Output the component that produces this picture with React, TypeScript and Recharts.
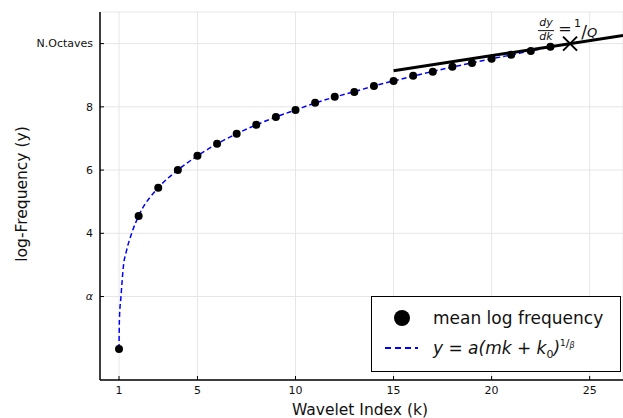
import {
  ComposedChart, Line, Scatter, XAxis, YAxis, CartesianGrid, ReferenceDot,
} from 'recharts'

// mean log frequency per wavelet index
const waveletIndex = [1, 2, 3, 4, 5, 6, 7, 8, 9, 10, 11, 12, 13, 14, 15, 16, 17, 18, 19, 20, 21, 22, 23]
const meanLogFreq = [
  0.34, 4.55, 5.44, 6.0, 6.45, 6.83, 7.15, 7.43, 7.68, 7.9, 8.13, 8.32,
  8.47, 8.66, 8.82, 8.98, 9.11, 9.27, 9.39, 9.52, 9.65, 9.77, 9.9,
]

// fitted curve y = a(mk + k0)^(1/β)
const fitK = [1, 1.02, 1.1, 1.22, 1.39, 1.65, 2, 3, 4, 5, 6, 7, 8, 9, 10, 11, 12, 13, 14, 15, 16, 17, 18, 19, 20, 21, 22, 23]
const fitY = [
  0.34, 1.3, 2.0, 2.94, 3.47, 4.01, 4.55, 5.44, 6.0, 6.45, 6.83, 7.15, 7.43, 7.68,
  7.9, 8.12, 8.31, 8.48, 8.66, 8.82, 8.97, 9.12, 9.26, 9.39, 9.52, 9.64, 9.77, 9.89,
]

// tangent dy/dk = 1/Q at the last octave
const tangentK = [15, 26.7]
const tangentY = [9.14, 10.26]
const markK = 24
const markY = 10

const xTicks = [1, 5, 10, 15, 20, 25]
const yTicks = [2, 4, 6, 8, 10]
const yTickLabels = ['α', '4', '6', '8', 'N.Octaves']

const FONT = '"DejaVu Sans", sans-serif'

const points = waveletIndex.map((k, i) => ({ k, y: meanLogFreq[i] }))
const fit = fitK.map((k, i) => ({ k, y: fitY[i] }))
const tangent = tangentK.map((k, i) => ({ k, y: tangentY[i] }))

type TickProps = { x?: number; y?: number; payload?: { value: number } }

function YTick({ x = 0, y = 0, payload }: TickProps) {
  const v = payload?.value ?? 0
  const label = yTickLabels[yTicks.indexOf(v)] ?? String(v)
  return (
    <g>
      <line x1={x + 7} x2={x + 11} y1={y} y2={y} stroke="#000" strokeWidth={1} />
      <text
        x={x} y={y} dy="0.35em" textAnchor="end" fontSize={11} fill="#111"
        fontFamily={FONT} fontStyle={label === 'α' ? 'italic' : 'normal'}
      >
        {label}
      </text>
    </g>
  )
}

function XTick({ x = 0, y = 0, payload }: TickProps) {
  return (
    <g>
      <line x1={x} x2={x} y1={y - 6} y2={y - 10} stroke="#000" strokeWidth={1} />
      <text x={x} y={y} dy="0.71em" textAnchor="middle" fontSize={11} fill="#111" fontFamily={FONT}>
        {payload?.value}
      </text>
    </g>
  )
}

// X marker plus the slope annotation
function SlopeMark({ cx = 0, cy = 0 }: { cx?: number; cy?: number }) {
  const s = 7
  return (
    <g fontFamily={FONT} fill="#111">
      <line x1={cx - s} y1={cy - s} x2={cx + s} y2={cy + s} stroke="#000" strokeWidth={2} />
      <line x1={cx - s} y1={cy + s} x2={cx + s} y2={cy - s} stroke="#000" strokeWidth={2} />
      <text x={cx - 24} y={cy - 18} textAnchor="middle" fontSize={11} fontStyle="italic">dy</text>
      <line x1={cx - 32} x2={cx - 16} y1={cy - 13} y2={cy - 13} stroke="#111" strokeWidth={1} />
      <text x={cx - 24} y={cy - 4} textAnchor="middle" fontSize={11} fontStyle="italic">dk</text>
      <text x={cx - 5} y={cy - 10} textAnchor="middle" fontSize={16}>=</text>
      <text x={cx + 7.5} y={cy - 17} textAnchor="middle" fontSize={11}>1</text>
      <text x={cx + 14} y={cy - 6} textAnchor="middle" fontSize={17}>/</text>
      <text x={cx + 22} y={cy - 7} textAnchor="middle" fontSize={13} fontStyle="italic">Q</text>
    </g>
  )
}

function LegendBox() {
  return (
    <div
      style={{
        position: 'absolute', left: 371, top: 296, width: 250, height: 76,
        boxSizing: 'border-box', border: '1.5px solid #000', background: '#fff',
      }}
    >
      <svg width={247} height={73} style={{ position: 'absolute', left: 0, top: 0 }}>
        <circle cx={30} cy={21} r={8} fill="#000" />
        <text x={61} y={21} dy="0.35em" fontSize={17} fontFamily={FONT} fill="#111">mean log frequency</text>
        <line x1={13} x2={46} y1={51} y2={51} stroke="#0000ff" strokeWidth={2} strokeDasharray="6 4" />
        <text x={61} y={51} dy="0.35em" fontSize={17} fontFamily={FONT} fill="#111" fontStyle="italic">
          y = a(mk + k<tspan fontSize={11} dy={4} fontStyle="normal">0</tspan>
          <tspan dy={-4}>)</tspan>
          <tspan fontSize={9} dy={-8} fontStyle="normal">1</tspan>
          <tspan fontSize={11} dy={1} fontStyle="normal">/</tspan>
          <tspan fontSize={8} dy={1}>β</tspan>
        </text>
      </svg>
    </div>
  )
}

export default function App() {
  return (
    <div style={{ position: 'absolute', left: 0, top: 0, width: 623, height: 418, background: '#fff' }}>
      <ComposedChart width={623} height={418} margin={{ top: 12, right: 0, bottom: 0, left: 0 }}>
        <CartesianGrid stroke="#e6e6e6" strokeWidth={1} />
        <XAxis
          type="number" dataKey="k" domain={[0.03, 26.7]} allowDataOverflow ticks={xTicks}
          height={38} tickSize={0} tickMargin={6} tick={<XTick />}
          axisLine={{ stroke: '#000', strokeWidth: 1.5 }}
          label={{
            content: () => (
              <text x={360} y={410} dy="0.35em" textAnchor="middle" fontSize={15.5} fontFamily={FONT} fill="#111">
                Wavelet Index (k)
              </text>
            ),
          }}
        />
        <YAxis
          type="number" dataKey="y" domain={[-0.64, 11.0]} allowDataOverflow ticks={yTicks}
          width={100} tickSize={0} tickMargin={7} tick={<YTick />}
          axisLine={{ stroke: '#000', strokeWidth: 1.5 }}
          label={{
            content: () => (
              <text
                x={22} y={194} dy="0.35em" textAnchor="middle" fontSize={15.5} fontFamily={FONT} fill="#111"
                transform="rotate(-90 22 194)"
              >
                log-Frequency (y)
              </text>
            ),
          }}
        />
        <Line
          data={fit} dataKey="y" type="monotone" stroke="#0000ff" strokeWidth={1.5}
          strokeDasharray="5 3" dot={false} isAnimationActive={false}
        />
        <Scatter data={points} dataKey="y" fill="#000" shape={(p: { cx?: number; cy?: number }) => (
          <circle cx={p.cx} cy={p.cy} r={4} fill="#000" />
        )} isAnimationActive={false} />
        <Line
          data={tangent} dataKey="y" type="linear" stroke="#000" strokeWidth={3}
          dot={false} isAnimationActive={false}
        />
        <ReferenceDot x={markK} y={markY} shape={<SlopeMark />} ifOverflow="visible" />
      </ComposedChart>
      <LegendBox />
    </div>
  )
}
